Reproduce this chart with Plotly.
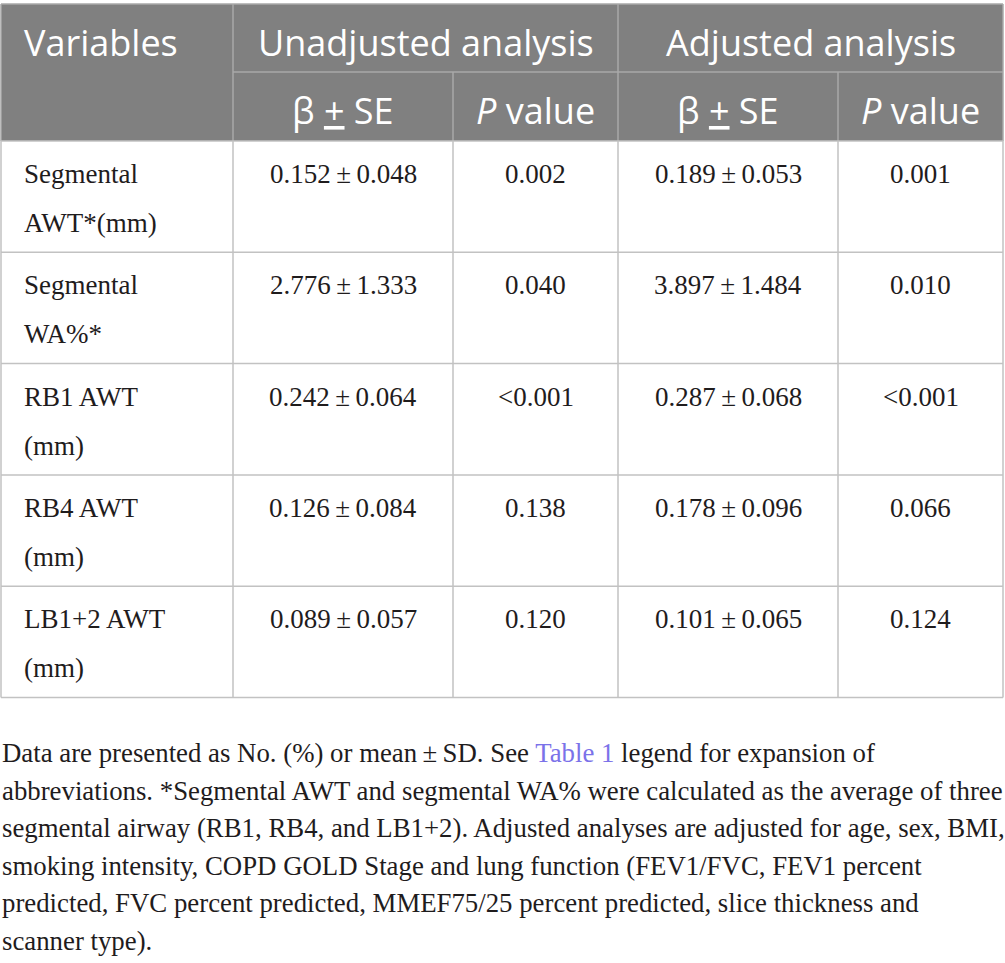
import plotly.graph_objects as go

# ---- table data ----
variables = [
    ("Segmental", "AWT*(mm)"),
    ("Segmental", "WA%*"),
    ("RB1 AWT", "(mm)"),
    ("RB4 AWT", "(mm)"),
    ("LB1+2 AWT", "(mm)"),
]
unadj_beta = ["0.152", "2.776", "0.242", "0.126", "0.089"]
unadj_se = ["0.048", "1.333", "0.064", "0.084", "0.057"]
unadj_p = ["0.002", "0.040", "<0.001", "0.138", "0.120"]
adj_beta = ["0.189", "3.897", "0.287", "0.178", "0.101"]
adj_se = ["0.053", "1.484", "0.068", "0.096", "0.065"]
adj_p = ["0.001", "0.010", "<0.001", "0.066", "0.124"]

group_headers = ["Unadjusted analysis", "Adjusted analysis"]
sub_headers = ["β <u>+</u> SE", "<i>P</i> value"]

footnote_lines = [
    "Data are presented as No. (%) or mean\u2009±\u2009SD. See "
    "<span style='color:#7b72e9'>Table 1</span> legend for expansion of",
    "abbreviations. *Segmental AWT and segmental WA% were calculated as the average of three",
    "segmental airway (RB1, RB4, and LB1+2). Adjusted analyses are adjusted for age, sex, BMI,",
    "smoking intensity, COPD GOLD Stage and lung function (FEV1/FVC, FEV1 percent",
    "predicted, FVC percent predicted, MMEF75/25 percent predicted, slice thickness and",
    "scanner type).",
]

# ---- layout geometry (pixels) ----
W, H = 1005, 963
col_edges = [1, 233, 453, 618, 838, 1003]
head_top, head_mid, head_bot = 4, 72, 141
row_h = 111.3
n_rows = len(variables)
table_bot = head_bot + row_h * n_rows

HEAD_BG = "#808080"
HEAD_LINE = "#a9a9a9"
GRID = "#c2c2c2"
TEXT = "#1f1c1d"
SANS = "Open Sans"
SERIF = "Liberation Serif"

shapes = []
annotations = []


def line(x0, y0, x1, y1, color):
    shapes.append(dict(type="line", xref="x", yref="y", x0=x0, y0=y0, x1=x1, y1=y1,
                       line=dict(color=color, width=1.5)))


def text(x, y, s, size, color, family, anchor="center"):
    annotations.append(dict(x=x, y=y, xref="x", yref="y", text=s, showarrow=False,
                            xanchor=anchor, yanchor="middle",
                            font=dict(size=size, color=color, family=family)))


# header background
shapes.append(dict(type="rect", xref="x", yref="y", x0=col_edges[0], x1=col_edges[-1],
                   y0=head_top, y1=head_bot, fillcolor=HEAD_BG, line=dict(width=0),
                   layer="below"))

# header lines
line(col_edges[0], head_top, col_edges[-1], head_top, HEAD_LINE)
line(col_edges[1], head_mid, col_edges[-1], head_mid, HEAD_LINE)
line(col_edges[1], head_top, col_edges[1], head_bot, HEAD_LINE)
line(col_edges[3], head_top, col_edges[3], head_bot, HEAD_LINE)
line(col_edges[2], head_mid, col_edges[2], head_bot, HEAD_LINE)
line(col_edges[4], head_mid, col_edges[4], head_bot, HEAD_LINE)
line(col_edges[0], head_top, col_edges[0], head_bot, HEAD_LINE)
line(col_edges[-1], head_top, col_edges[-1], head_bot, HEAD_LINE)

# body grid
for i in range(n_rows + 1):
    y = head_bot + row_h * i
    line(col_edges[0], y, col_edges[-1], y, GRID)
for x in col_edges:
    line(x, head_bot, x, table_bot, GRID)

# header text
text(col_edges[0] + 21, 42, "Variables", 36, "white", SANS, anchor="left")
for g, name in enumerate(group_headers):
    x0, x1 = col_edges[1 + 2 * g], col_edges[3 + 2 * g]
    text((x0 + x1) / 2, 42, name, 36, "white", SANS)
    for k, sub in enumerate(sub_headers):
        c = 1 + 2 * g + k
        text((col_edges[c] + col_edges[c + 1]) / 2, 110, sub, 36, "white", SANS)

# body text
columns = [
    [f"{b}\u2009±\u2009{s}" for b, s in zip(unadj_beta, unadj_se)],
    unadj_p,
    [f"{b}\u2009±\u2009{s}" for b, s in zip(adj_beta, adj_se)],
    adj_p,
]
for i, (l1, l2) in enumerate(variables):
    top = head_bot + row_h * i
    text(col_edges[0] + 21, top + 33, l1, 27, TEXT, SERIF, anchor="left")
    text(col_edges[0] + 21, top + 82, l2, 27, TEXT, SERIF, anchor="left")
    for c, vals in enumerate(columns):
        xc = (col_edges[c + 1] + col_edges[c + 2]) / 2
        text(xc, top + 33, vals[i], 27, TEXT, SERIF)

# footnote
for j, s in enumerate(footnote_lines):
    text(0, 753 + 37.6 * j, s, 26.8, TEXT, SERIF, anchor="left")

fig = go.Figure()
fig.update_layout(
    width=W,
    height=H,
    margin=dict(l=0, r=0, t=0, b=0),
    paper_bgcolor="white",
    plot_bgcolor="white",
    xaxis=dict(range=[0, W], visible=False, fixedrange=True),
    yaxis=dict(range=[H, 0], visible=False, fixedrange=True),
    shapes=shapes,
    annotations=annotations,
    showlegend=False,
)

# the page body has an 8px default margin; drop it so the table fills the window
fig.write_html(
    "out.html",
    config={"displayModeBar": False},
    post_script="document.body.style.margin = '0';",
)
